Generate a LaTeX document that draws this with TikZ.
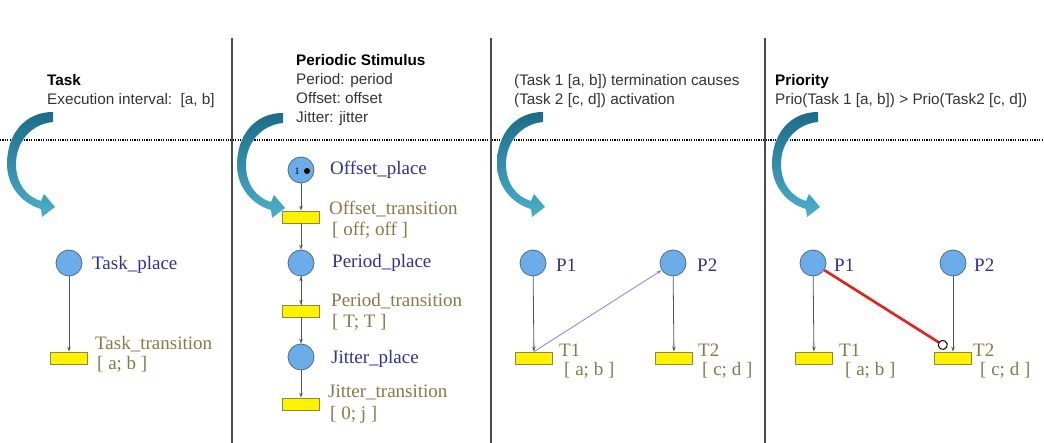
\documentclass[tikz,border=0pt]{standalone}
\usepackage{fontspec}
\setmainfont{Liberation Serif}
\newfontfamily\headfont{Liberation Sans}
\usetikzlibrary{arrows.meta, positioning, calc}
\definecolor{placeblue}{HTML}{6AADE8}
\definecolor{placeedge}{HTML}{4E6C8C}
\definecolor{placetext}{HTML}{30309A}
\definecolor{transtext}{HTML}{8B7845}
\definecolor{transedge}{HTML}{8A8A3A}
\definecolor{arcgray}{HTML}{555555}
\definecolor{arcblue}{HTML}{8080F8}
\definecolor{priored}{HTML}{E8201C}
\definecolor{swoopdark}{HTML}{1D6C88}
\definecolor{swooplight}{HTML}{4AAFCC}
\definecolor{headgray}{HTML}{333333}

\tikzset{
  place/.style={circle, draw=placeedge, fill=placeblue, line width=0.8pt,
    minimum size=26pt, inner sep=0pt},
  trans/.style={rectangle, draw=transedge, fill=yellow, line width=0.8pt,
    minimum width=37pt, minimum height=12pt, inner sep=0pt},
  arc/.style={-{Stealth[length=5pt, width=3.5pt]}, draw=arcgray, line width=0.8pt},
  pname/.style={anchor=base west, inner sep=0pt, text=placetext,
    font=\fontsize{19}{21}\selectfont},
  tname/.style={anchor=base west, inner sep=0pt, text=transtext,
    font=\fontsize{19}{21}\selectfont},
  head/.style={anchor=base west, inner sep=0pt, align=left, text=headgray,
    font=\headfont\fontsize{15.3}{19}\selectfont},
  divider/.style={draw=black!70, line width=2pt},
  swoop/.pic={
    \path[top color=swoopdark, bottom color=swooplight]
      (0,0) .. controls (-28,0) and (-46,22) .. (-46,52)
      .. controls (-46,75) and (-30,92) .. (-12,97)
      -- (-11,105) -- (2,95) -- (-9,82) -- (-12,89)
      .. controls (-26,85) and (-37,72) .. (-37,52)
      .. controls (-37,30) and (-22,12) .. (0,10) -- cycle;
  }
}

\begin{document}
\begin{tikzpicture}[x=1pt, y=-1pt, >=Stealth]
  \useasboundingbox (0,0) rectangle (1044,443);

  % Trennlinien
  \draw[dash pattern=on 1.2pt off 1.2pt, line width=1.2pt] (0,140) -- (1044,140);
  \draw[divider] (232,38) -- (232,443);
  \draw[divider] (491,38) -- (491,443);
  \draw[divider] (765,38) -- (765,443);

  % Überschriften (Anker = Grundlinie der letzten Zeile)
  \node[head] (h1) at (47,105) {\textcolor{black}{\textbf{Task}}\\Execution interval:\ \ [a, b]};
  \node[head] (h2) at (296,123) {\textcolor{black}{\textbf{Periodic Stimulus}}\\Period: period\\Offset:\ offset\\Jitter: jitter};
  \node[head] (h3) at (514,105) {(Task 1 [a, b]) termination causes\\(Task 2 [c, d]) activation};
  \node[head] (h4) at (775,105) {\textcolor{black}{\textbf{Priority}}\\Prio(Task 1 [a, b]) > Prio(Task2 [c, d])};

  % Pfeile
  \pic at (53,112) {swoop};
  \pic at (283,113) {swoop};
  \pic at (543,112) {swoop};
  \pic at (818,112) {swoop};

  % Task
  \node[place] (tp) at (69,263) {};
  \node[trans] (tt) at (69,358) {};
  \node[pname] (tpl) at (92,270) {Task\_place};
  \node[tname] (ttl) at (95,350) {Task\_transition};
  \node[tname] (tti) at (97,370) {[ a; b ]};
  \draw[arc] (tp) -- (tt);

  % Periodic Stimulus
  \node[place] (op) at (301,170) {};
  \node[trans] (ot) at (301,217) {};
  \node[place] (pp) at (301,263) {};
  \node[trans] (pt) at (301,311) {};
  \node[place] (jp) at (301,357) {};
  \node[trans] (jt) at (301,404) {};
  \node[font=\fontsize{10}{10}\selectfont, inner sep=0pt] (tok) at (297,171) {1};
  \fill (307,171) circle (3);
  \node[pname] (opl) at (330,175) {Offset\_place};
  \node[tname] (otl) at (329,215) {Offset\_transition};
  \node[tname] (oti) at (332,236) {[ off; off ]};
  \node[pname] (ppl) at (332,268) {Period\_place};
  \node[tname] (ptl) at (331,307) {Period\_transition};
  \node[tname] (pti) at (332,328) {[ T; T ]};
  \node[pname] (jpl) at (331,363) {Jitter\_place};
  \node[tname] (jtl) at (328,398) {Jitter\_transition};
  \node[tname] (jti) at (330,419) {[ 0; j ]};
  \draw[arc] (op) -- (ot);
  \draw[arc] (ot) -- (pp);
  \draw[arc] (pp) -- (pt);
  \draw[arc] (pt) -- (pp);
  \draw[arc] (pt) -- (jp);
  \draw[arc] (jp) -- (jt);

  % Termination -> activation
  \node[place] (ap1) at (533,263) {};
  \node[place] (ap2) at (673,263) {};
  \node[trans] (at1) at (534,358) {};
  \node[trans] (at2) at (674,358) {};
  \node[pname] (ap1l) at (556,272) {P1};
  \node[pname] (ap2l) at (697,272) {P2};
  \node[tname] (at1l) at (559,357) {T1};
  \node[tname] (at1i) at (564,376) {[ a; b ]};
  \node[tname] (at2l) at (698,357) {T2};
  \node[tname] (at2i) at (702,376) {[ c; d ]};
  \draw[arc] (ap1) -- (at1);
  \draw[arc] (ap2) -- (at2);
  \draw[arc, draw=arcblue] (at1.north) -- (ap2);

  % Priority
  \node[place] (bp1) at (813,263) {};
  \node[place] (bp2) at (953,263) {};
  \node[trans] (bt1) at (814,358) {};
  \node[trans] (bt2) at (953,358) {};
  \node[pname] (bp1l) at (834,272) {P1};
  \node[pname] (bp2l) at (974,272) {P2};
  \node[tname] (bt1l) at (839,357) {T1};
  \node[tname] (bt1i) at (845,376) {[ a; b ]};
  \node[tname] (bt2l) at (973,357) {T2};
  \node[tname] (bt2i) at (980,376) {[ c; d ]};
  \draw[arc] (bp1) -- (bt1);
  \draw[arc] (bp2) -- (bt2);
  \coordinate (inh) at ($(bt2.north)+(-6,-4)$);
  \draw[draw=priored, line width=2.6pt,
    -{Circle[open, color=black, line width=1pt, length=10pt]}] (bp1) -- (inh);
\end{tikzpicture}
\end{document}
